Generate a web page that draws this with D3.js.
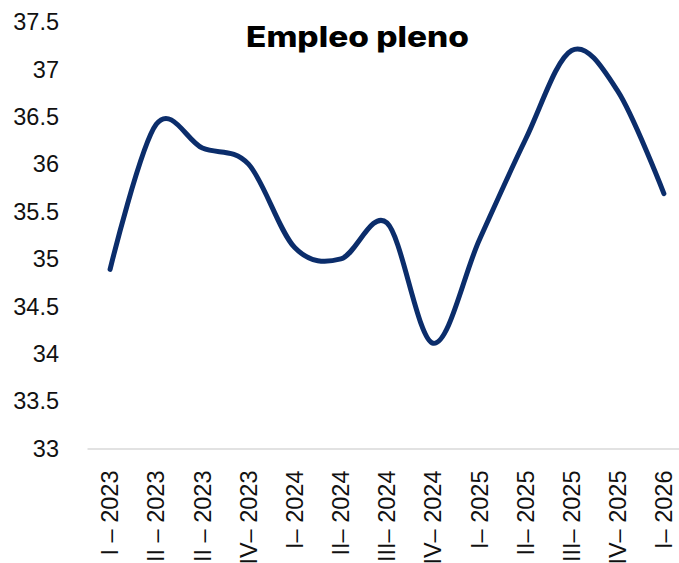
<!DOCTYPE html>
<html>
<head>
<meta charset="utf-8">
<script src="https://cdn.jsdelivr.net/npm/d3@7"></script>
<style>
  body { margin: 0; background: #fff; }
  svg { display: block; }
</style>
</head>
<body>
<div id="chart"></div>
<script>
// quarters shown on the x axis
var categories = ["I – 2023", "II – 2023", "III – 2023", "IV– 2023", "I– 2024", "II– 2024",
                  "III– 2024", "IV– 2024", "I– 2025", "II– 2025", "III– 2025", "IV– 2025", "I– 2026"];
// empleo pleno (%)
var values = [34.89, 36.42, 36.17, 36.0, 35.12, 35.0, 35.38, 34.11, 35.2, 36.26, 37.2, 36.77, 35.69];
var yTicks = [33, 33.5, 34, 34.5, 35, 35.5, 36, 36.5, 37, 37.5];
var title = "Empleo pleno";

var w = 679, h = 563;

var svg = d3.select("#chart")
  .append("svg")
    .attr("width", w)
    .attr("height", h);

var x = d3.scaleBand()
  .domain(categories)
  .range([87, 687]);

var y = d3.scaleLinear()
  .domain([33, 37.5])
  .range([448.5, 22]);

// y labels, no axis line
svg.append("g")
  .selectAll("text")
  .data(yTicks)
  .enter().append("text")
    .attr("x", 59)
    .attr("y", function(d){ return y(d); })
    .attr("dy", "0.35em")
    .attr("text-anchor", "end")
    .style("font-family", "'Liberation Sans', Arial, sans-serif")
    .style("font-size", "23.5px")
    .style("fill", "#111")
    .text(function(d){ return d; });

// category axis
var xAxis = svg.append("g")
  .attr("transform", "translate(0," + y(33) + ")")
  .call(d3.axisBottom(x).tickSize(0).tickPadding(0));

xAxis.select(".domain")
  .attr("stroke", "#d9d9d9")
  .attr("stroke-width", 1.5);

xAxis.selectAll(".tick text")
  .attr("transform", "rotate(-90)")
  .attr("x", -22)
  .attr("y", 0)
  .attr("dy", "0.35em")
  .attr("text-anchor", "end")
  .style("font-family", "'Liberation Sans', Arial, sans-serif")
  .style("font-size", "23.5px")
  .style("fill", "#111");

var line = d3.line()
  .x(function(d, i){ return x(categories[i]) + x.bandwidth() / 2; })
  .y(function(d){ return y(d); })
  .curve(d3.curveCardinal.tension(0));

svg.append("path")
  .datum(values)
  .attr("d", line)
  .attr("fill", "none")
  .attr("stroke", "#0b2d6b")
  .attr("stroke-width", 5)
  .attr("stroke-linecap", "round")
  .attr("stroke-linejoin", "round");

svg.append("text")
  .attr("x", 357.5)
  .attr("y", 47)
  .attr("text-anchor", "middle")
  .attr("textLength", 223)
  .attr("lengthAdjust", "spacingAndGlyphs")
  .style("font-family", "Inter, 'Open Sans', sans-serif")
  .style("font-weight", 800)
  .style("font-size", "28px")
  .style("fill", "#000")
  .text(title);
</script>
</body>
</html>
